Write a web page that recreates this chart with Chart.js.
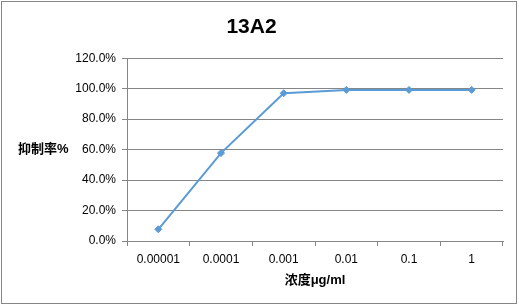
<!DOCTYPE html>
<html>
<head>
<meta charset="utf-8">
<script src="https://cdn.jsdelivr.net/npm/chart.js@4"></script>
<style>
  html, body { margin: 0; padding: 0; background: #fff; }
  #wrap { width: 519px; height: 305px; position: relative; }
</style>
</head>
<body>
<div id="wrap"><canvas id="inhibitionChart"></canvas></div>
<script>
const chartTitle = '13A2';
const concentrations = ['0.00001', '0.0001', '0.001', '0.01', '0.1', '1'];
const inhibitionRates = [0.077, 0.577, 0.970, 0.992, 0.992, 0.992];
const yTicks = [0, 0.2, 0.4, 0.6, 0.8, 1.0, 1.2];
const xAxisTitle = '浓度μg/ml';
const yAxisTitle = '抑制率%';

const fontFamily = '"Liberation Sans", "Noto Sans CJK SC", Arial, sans-serif';

// frame + horizontal y title (Excel puts it sideways, not rotated)
const framePlugin = {
    id: 'frame',
    beforeDraw(chart) {
        const ctx = chart.ctx;
        ctx.save();
        ctx.fillStyle = '#fff';
        ctx.fillRect(0, 0, chart.width, chart.height);
        ctx.restore();
    },
    afterDraw(chart) {
        const ctx = chart.ctx;
        ctx.save();
        ctx.strokeStyle = '#868686';
        ctx.lineWidth = 1;
        ctx.strokeRect(1.5, 1.5, 515, 302);
        ctx.fillStyle = '#000';
        ctx.font = 'bold 13px ' + fontFamily;
        ctx.textAlign = 'left';
        ctx.textBaseline = 'middle';
        ctx.fillText(yAxisTitle, 18, 149);
        ctx.restore();
    }
};

new Chart(document.getElementById('inhibitionChart').getContext('2d'), {
    type: 'line',
    data: {
        labels: concentrations,
        datasets: [{
            data: inhibitionRates,
            borderColor: '#5B9BD5',
            backgroundColor: '#5B9BD5',
            borderWidth: 2,
            tension: 0,
            pointStyle: 'rectRot',
            pointRadius: 3.5,
            pointBorderWidth: 1
        }]
    },
    options: {
        responsive: true,
        maintainAspectRatio: false,
        animation: false,
        layout: { padding: { left: 0, right: 16, top: 0, bottom: 17 } },
        plugins: {
            legend: { display: false },
            tooltip: { enabled: false },
            title: {
                display: true,
                text: chartTitle,
                color: '#000',
                font: { family: fontFamily, size: 21, weight: 'bold' },
                padding: { top: 15, bottom: 18 }
            }
        },
        scales: {
            x: {
                offset: true,
                grid: {
                    offset: true,
                    drawOnChartArea: false,
                    drawTicks: true,
                    tickLength: 5,
                    color: '#868686'
                },
                border: { display: true, color: '#868686', width: 1 },
                ticks: {
                    color: '#000',
                    padding: 6,
                    maxRotation: 0,
                    font: { family: fontFamily, size: 12 }
                },
                title: {
                    display: true,
                    text: xAxisTitle,
                    color: '#000',
                    padding: { top: 0, bottom: 0 },
                    font: { family: fontFamily, size: 13, weight: 'bold' }
                }
            },
            y: {
                min: 0,
                max: 1.2,
                afterBuildTicks(scale) {
                    scale.ticks = yTicks.map(v => ({ value: v }));
                },
                afterFit(scale) {
                    scale.width = 127;
                },
                grid: {
                    color: '#868686',
                    drawTicks: true,
                    tickLength: 5
                },
                border: { display: true, color: '#868686', width: 1 },
                ticks: {
                    color: '#000',
                    padding: 6,
                    font: { family: fontFamily, size: 12 },
                    callback: v => (v * 100).toFixed(1) + '%'
                }
            }
        }
    },
    plugins: [framePlugin]
});
</script>
</body>
</html>
